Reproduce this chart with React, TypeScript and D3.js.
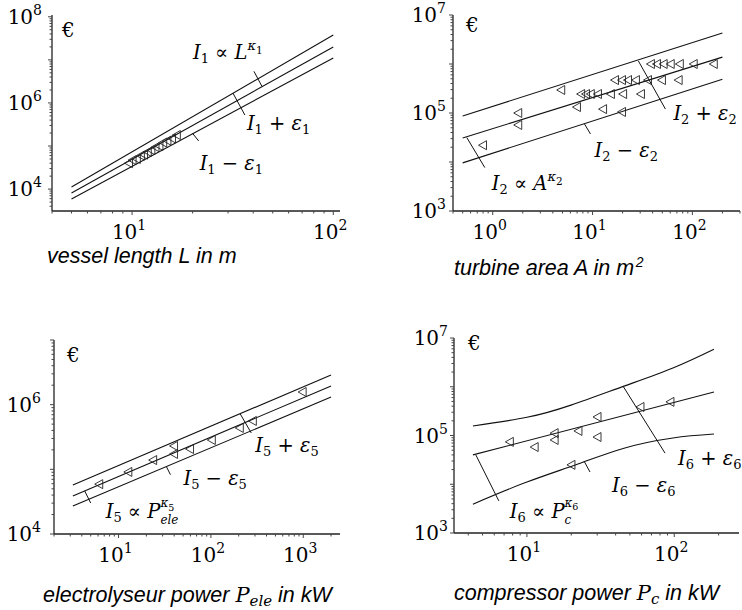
import React from 'react';
import * as d3 from 'd3';

type Pt = [number, number];

// panel 1: vessel length
const vesselX = [5, 100];
const vesselUpper = [1.12e4, 3.77e7];
const vesselFit = [8.1e3, 1.99e7];
const vesselLower = [5.9e3, 1.1e7];
const vesselPts: Pt[] = [
  [9.6, 4.0e4], [10.0, 4.7e4], [10.5, 5.0e4], [11.0, 6.0e4], [11.4, 6.3e4],
  [11.9, 7.3e4], [12.4, 8.0e4], [13.0, 9.4e4], [13.6, 1.0e5], [14.2, 1.2e5],
  [14.9, 1.33e5], [15.7, 1.5e5], [16.6, 1.8e5],
];

// panel 2: turbine area
const turbineX = [0.5, 200];
const turbineUpper = [8.7e4, 4.3e6];
const turbineFit = [3.1e4, 1.38e6];
const turbineLower = [9.6e3, 4.9e5];
const turbinePts: Pt[] = [
  [0.79, 2.2e4], [1.78, 1.0e5], [1.78, 5.7e4], [4.8, 2.95e5], [6.9, 1.32e5],
  [7.6, 2.44e5], [8.5, 2.44e5], [9.5, 2.44e5], [11.2, 2.44e5], [12.6, 1.2e5],
  [15.1, 2.44e5], [16.6, 4.7e5], [19.5, 4.7e5], [20, 2.44e5], [19.5, 1.05e5],
  [22.4, 4.7e5], [26.9, 4.7e5], [30.2, 2.44e5], [35.5, 4.7e5], [38, 1.0e6],
  [43.7, 1.0e6], [49, 4.7e5], [51, 1.0e6], [60, 1.0e6], [72, 4.7e5],
  [74, 1.0e6], [102, 1.0e6], [162, 1.0e6],
];

// panel 3: electrolyser power
const elecX = [3.2, 2000];
const elecUpper = [5.73e4, 2.88e6];
const elecFit = [3.87e4, 1.95e6];
const elecLower = [2.71e4, 1.31e6];
const elecPts: Pt[] = [
  [6.1, 5.9e4], [12.6, 9.1e4], [23.4, 1.39e5], [39.4, 2.3e5], [39.4, 1.73e5],
  [58.7, 2.06e5], [101, 2.84e5], [203, 4.36e5], [281, 5.6e5], [973, 1.57e6],
];

// panel 4: compressor power (band is curved)
const compUpperX = [4.3, 10, 19.9, 45.6, 97.9, 186];
const compUpper = [1.57e5, 2.36e5, 4.2e5, 1.03e6, 2.43e6, 5.9e6];
const compLowerX = [4.3, 10, 22.2, 45.6, 97.9, 186];
const compLower = [3.9e3, 1.11e4, 2.6e4, 5.5e4, 8.9e4, 1.07e5];
const compFitX = [4.3, 186];
const compFit = [4.0e4, 7.8e5];
const compPts: Pt[] = [
  [7.6, 7.4e4], [11.2, 5.8e4], [15.3, 1.12e5], [15.3, 8.1e4], [22.2, 1.24e5],
  [29.9, 2.4e5], [29.9, 9.3e4], [19.9, 2.5e4], [58.5, 3.85e5], [93.5, 4.9e5],
];

type Seg = { t: string; it?: boolean; sz?: number; sh?: number; stack?: boolean; sans?: boolean };

let ctx: CanvasRenderingContext2D | null = null;
function measure(s: Seg, base: number) {
  if (!ctx) ctx = document.createElement('canvas').getContext('2d');
  const size = s.sz ?? base;
  ctx!.font = `${s.it ? 'italic ' : ''}${size}px ${s.sans ? '"Liberation Sans"' : '"DejaVu Serif"'}`;
  return ctx!.measureText(s.t).width;
}

// lays out a run of text pieces (sub/superscripts, mixed fonts) left to right
function Rich({ x, y, segs, base }: { x: number; y: number; segs: Seg[]; base: number }) {
  let cx = x, ps = x;
  const out = segs.map((s, i) => {
    const st = s.stack ? ps : cx;
    cx = st + measure(s, base);
    ps = st;
    return (
      <text key={i} x={st} y={y - (s.sh ?? 0)} fontSize={s.sz ?? base}
        fontFamily={s.sans ? 'Liberation Sans' : 'DejaVu Serif'}
        fontStyle={s.it ? 'italic' : 'normal'} style={{ whiteSpace: 'pre' }}>
        {s.t}
      </text>
    );
  });
  return <g>{out}</g>;
}

const eq = (kind: string, n: string, v: Seg[]): Seg[] => {
  const head: Seg[] = [{ t: 'I', it: true }, { t: n, sz: 13, sh: -4 }];
  if (kind === 'plus') return [...head, { t: ' + ' }, { t: 'ε', it: true }, { t: n, sz: 13, sh: -4 }];
  if (kind === 'minus') return [...head, { t: ' − ' }, { t: 'ε', it: true }, { t: n, sz: 13, sh: -4 }];
  const stacked = v.length > 1;
  return [...head, { t: ' ∝ ' }, ...v,
    { t: 'κ', it: true, sz: stacked ? 12 : 13, sh: stacked ? 11 : 9, stack: stacked },
    { t: n, sz: stacked ? 9.5 : 10.5, sh: stacked ? 7.5 : 5 }];
};

interface Ann { at: Pt; lead: Pt; lab: Pt; kind: string }
interface Line { x: number[]; y: number[] }
interface Panel {
  xDomain: [number, number]; xRange: [number, number];
  yDomain: [number, number]; yRange: [number, number];
  xLabelExp: number[]; yLabelExp: number[]; yGap: number;
  lines: Line[]; pts: Pt[]; anns: Ann[];
  n: string; v: Seg[]; title: Seg[]; titlePos: Pt; euro: Pt;
}

const panels: Panel[] = [
  {
    xDomain: [4, 108], xRange: [52, 340], yDomain: [3.1e3, 1.1e8], yRange: [211, 15],
    xLabelExp: [1, 2], yLabelExp: [4, 6, 8], yGap: 10,
    lines: [{ x: vesselX, y: vesselUpper }, { x: vesselX, y: vesselFit }, { x: vesselX, y: vesselLower }],
    pts: vesselPts,
    anns: [
      { at: [44.2, 2.43e6], lead: [-8, -15], lab: [-69, -27], kind: 'prop' },
      { at: [31.7, 1.7e6], lead: [12, 22], lab: [14, 37], kind: 'plus' },
      { at: [20, 1.96e5], lead: [6, 7.5], lab: [7, 37], kind: 'minus' },
    ],
    n: '1', v: [{ t: 'L', it: true }],
    title: [{ t: 'vessel length L in m', sans: true, it: true }], titlePos: [47, 263], euro: [62, 37],
  },
  {
    xDomain: [0.4, 300], xRange: [453, 740], yDomain: [1e3, 1e7], yRange: [211, 15],
    xLabelExp: [0, 1, 2], yLabelExp: [3, 5, 7], yGap: 7,
    lines: [{ x: turbineX, y: turbineUpper }, { x: turbineX, y: turbineFit }, { x: turbineX, y: turbineLower }],
    pts: turbinePts,
    anns: [
      { at: [28.8, 1.15e6], lead: [27, 48], lab: [35, 59], kind: 'plus' },
      { at: [8.3, 5.97e4], lead: [6, 10], lab: [10, 33], kind: 'minus' },
      { at: [0.55, 3.15e4], lead: [18, 30], lab: [25, 52], kind: 'prop' },
    ],
    n: '2', v: [{ t: 'A', it: true }],
    title: [{ t: 'turbine area A in m', sans: true, it: true }, { t: '2', sans: true, it: true, sz: 14, sh: 8 }],
    titlePos: [454, 275], euro: [466, 32],
  },
  {
    xDomain: [2, 2500], xRange: [54, 340], yDomain: [1e4, 1e7], yRange: [534, 340],
    xLabelExp: [1, 2, 3], yLabelExp: [4, 6], yGap: 13,
    lines: [{ x: elecX, y: elecUpper }, { x: elecX, y: elecFit }, { x: elecX, y: elecLower }],
    pts: elecPts,
    anns: [
      { at: [208, 7.18e5], lead: [11, 19], lab: [15, 38], kind: 'plus' },
      { at: [33, 1.1e5], lead: [4, 8], lab: [17, 18], kind: 'minus' },
      { at: [4.3, 4.62e4], lead: [6, 12], lab: [21, 27], kind: 'prop' },
    ],
    n: '5', v: [{ t: 'P', it: true }, { t: 'ele', it: true, sz: 12, sh: -6 }],
    title: [
      { t: 'electrolyseur power ', sans: true, it: true }, { t: 'P', it: true, sz: 21 },
      { t: 'ele', it: true, sz: 15, sh: -4 }, { t: ' in kW', sans: true, it: true },
    ],
    titlePos: [43, 602], euro: [67, 362],
  },
  {
    xDomain: [3.2, 275], xRange: [454, 739], yDomain: [1e3, 1e7], yRange: [533, 338],
    xLabelExp: [1, 2], yLabelExp: [3, 5, 7], yGap: 6,
    lines: [{ x: compUpperX, y: compUpper }, { x: compFitX, y: compFit }, { x: compLowerX, y: compLower }],
    pts: compPts,
    anns: [
      { at: [44.9, 1.03e6], lead: [42, 67], lab: [55, 79], kind: 'plus' },
      { at: [24.4, 3.0e4], lead: [6, 11], lab: [28, 31], kind: 'minus' },
      { at: [4.5, 4.0e4], lead: [23, 46], lab: [34, 63], kind: 'prop' },
    ],
    n: '6', v: [{ t: 'P', it: true }, { t: 'c', it: true, sz: 12, sh: -6 }],
    title: [
      { t: 'compressor power ', sans: true, it: true }, { t: 'P', it: true, sz: 21 },
      { t: 'c', it: true, sz: 15, sh: -4 }, { t: ' in kW', sans: true, it: true },
    ],
    titlePos: [454, 600], euro: [468, 350],
  },
];

const tri = 'M-4,0L4,-4.5L4,4.5Z';

function PanelView({ p }: { p: Panel }) {
  const x = d3.scaleLog().domain(p.xDomain).range(p.xRange);
  const y = d3.scaleLog().domain(p.yDomain).range(p.yRange);
  const ax = p.xRange[0];
  const ay = p.yRange[0];
  const isMajor = (t: number) => Math.abs(Math.log10(t) - Math.round(Math.log10(t))) < 1e-9;
  const line = d3.line<Pt>().x(d => x(d[0])).y(d => y(d[1])).curve(d3.curveNatural);

  return (
    <g>
      {/* fitted and band lines */}
      {p.lines.map((l, i) => (
        <path key={i} d={line(l.x.map((v, j) => [v, l.y[j]] as Pt)) || ''}
          fill="none" stroke="#111" strokeWidth={1.1} />
      ))}
      {/* data points */}
      {p.pts.map((d, i) => (
        <path key={i} d={tri} transform={`translate(${x(d[0])},${y(d[1])})`}
          fill="none" stroke="#222" strokeWidth={0.9} />
      ))}
      {/* annotations */}
      {p.anns.map((a, i) => {
        const px = x(a.at[0]), py = y(a.at[1]);
        return (
          <g key={i}>
            <line x1={px} y1={py} x2={px + a.lead[0]} y2={py + a.lead[1]} stroke="#111" strokeWidth={1} />
            <Rich x={px + a.lab[0]} y={py + a.lab[1]} base={19.5} segs={eq(a.kind, p.n, p.v)} />
          </g>
        );
      })}
      {/* axes */}
      <line x1={ax} x2={p.xRange[1]} y1={ay} y2={ay} stroke="#222" strokeWidth={1.3} />
      <line x1={ax} x2={ax} y1={ay} y2={p.yRange[1]} stroke="#222" strokeWidth={1.3} />
      {x.ticks().map((t, i) => (
        <line key={i} x1={x(t)} x2={x(t)} y1={ay} y2={ay + (isMajor(t) ? 4 : 2.5)} stroke="#444" strokeWidth={1} />
      ))}
      {y.ticks().map((t, i) => (
        <line key={i} x1={ax} x2={ax - (isMajor(t) ? 4 : 2.5)} y1={y(t)} y2={y(t)} stroke="#444" strokeWidth={1} />
      ))}
      {p.xLabelExp.map(e => (
        <text key={e} x={x(Math.pow(10, e)) - 3} y={ay + 28} textAnchor="middle"
          fontFamily="DejaVu Serif" fontSize={20}>
          10<tspan dy={-9} fontSize={14}>{e}</tspan>
        </text>
      ))}
      {p.yLabelExp.map(e => (
        <text key={e} x={ax - p.yGap} y={y(Math.pow(10, e)) + 7} textAnchor="end"
          fontFamily="DejaVu Serif" fontSize={20}>
          10<tspan dy={-9} fontSize={14}>{e}</tspan>
        </text>
      ))}
      <text x={p.euro[0]} y={p.euro[1]} fontFamily="DejaVu Serif" fontSize={20}>€</text>
      <Rich x={p.titlePos[0]} y={p.titlePos[1]} base={21.5} segs={p.title} />
    </g>
  );
}

export default function App() {
  return (
    <svg width={742} height={610} style={{ position: 'absolute', left: 0, top: 0, background: '#fff' }}>
      {panels.map((p, i) => <PanelView key={i} p={p} />)}
    </svg>
  );
}
